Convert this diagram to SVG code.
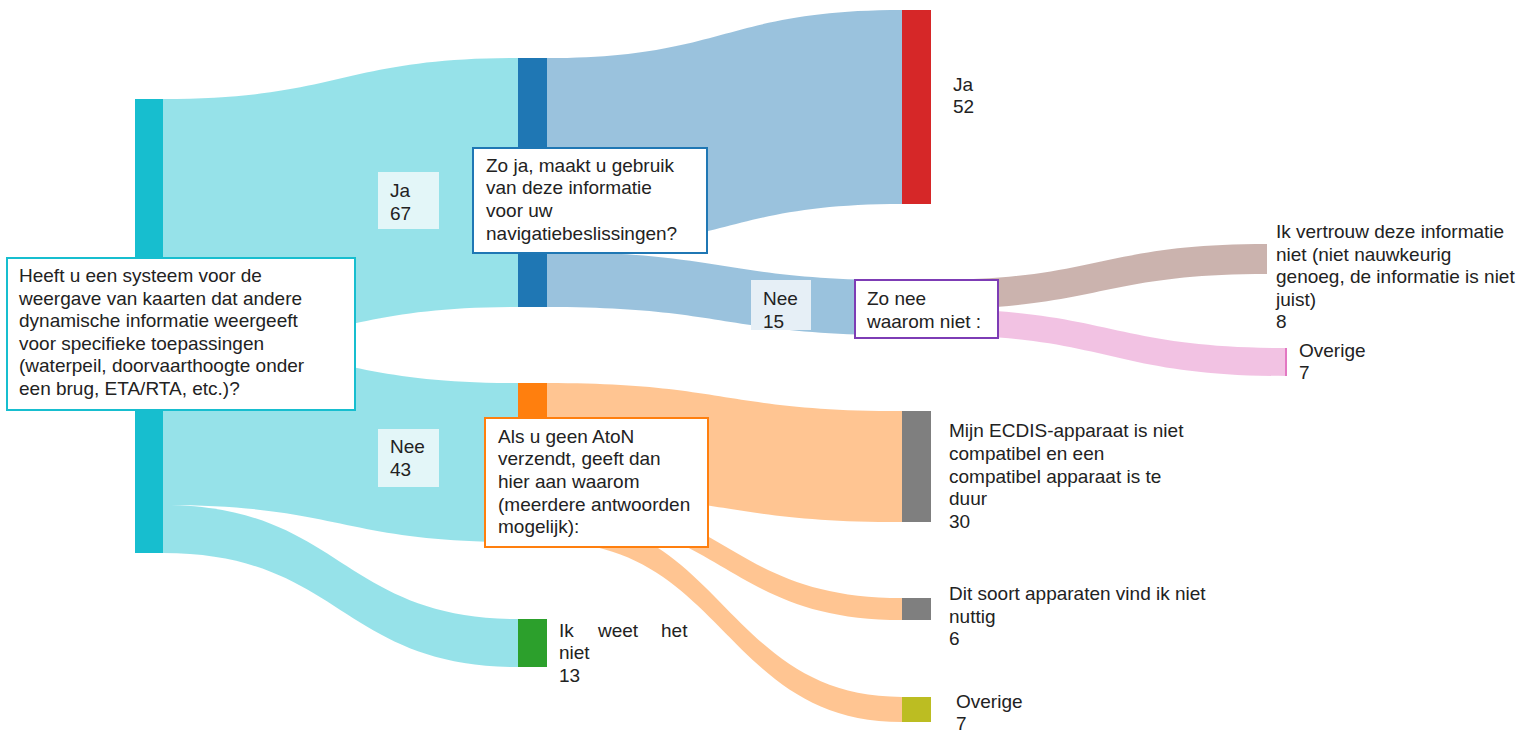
<svg xmlns="http://www.w3.org/2000/svg" width="1534" height="733" viewBox="0 0 1534 733">
<style>
text{font-family:"Liberation Sans",Arial,sans-serif;font-size:19px;fill:#222}
.lc{fill:#17becf;fill-opacity:0.45}
.lb{fill:#1f77b4;fill-opacity:0.45}
.lo{fill:#ff7f0e;fill-opacity:0.45}
.lbr{fill:#8c564b;fill-opacity:0.45}
.lp{fill:#e377c2;fill-opacity:0.45}
.q{fill:#fff;stroke-width:2}
</style>
<rect width="1534" height="733" fill="#fff"/>
<g id="links">
<path class="lc" d="M163 99C340.5 99 340.5 58 518 58L518 307C340.5 307 340.5 346 163 346Z"/>
<path class="lc" d="M163 346C340.5 346 340.5 383 518 383L518 542C340.5 542 340.5 505 163 505Z"/>
<path class="lc" d="M163 505C340.5 505 340.5 619 518 619L518 667C340.5 667 340.5 553 163 553Z"/>
<path class="lb" d="M547 58C724.5 58 724.5 10 902 10L902 204C724.5 204 724.5 250 547 250Z"/>
<path class="lb" d="M547 252C724.5 252 724.5 280 902 280L902 335C724.5 335 724.5 307 547 307Z"/>
<path class="lbr" d="M931 280C1099 280 1099 244 1267 244L1267 274C1099 274 1099 309 931 309Z"/>
<path class="lp" d="M931 309C1109 309 1109 348 1287 348L1287 376C1109 376 1109 335 931 335Z"/>
<path class="lo" d="M547 383C724.5 383 724.5 411 902 411L902 522C724.5 522 724.5 494 547 494Z"/>
<path class="lo" d="M547 494C724.5 494 724.5 598 902 598L902 620C724.5 620 724.5 516 547 516Z"/>
<path class="lo" d="M547 516C724.5 516 724.5 697 902 697L902 722C724.5 722 724.5 542 547 542Z"/>
</g>
<g id="node-q1"><rect x="135" y="99" width="28" height="454" fill="#17becf"/></g>
<g id="node-q2"><rect x="518" y="58" width="29" height="249" fill="#1f77b4"/></g>
<g id="node-q3"><rect x="518" y="383" width="29" height="159" fill="#ff7f0e"/></g>
<g id="node-ikweet"><rect x="518" y="619" width="29" height="48" fill="#2ca02c"/>
<text x="559" y="637">Ik</text><text x="598" y="637">weet</text><text x="661" y="637">het</text>
<text x="559" y="659">niet</text><text x="559" y="682">13</text></g>
<g id="node-ja52"><rect x="902" y="10" width="29" height="194" fill="#d62728"/>
<text x="953" y="91">Ja</text><text x="953" y="113">52</text></g>
<g id="node-q4"><rect x="902" y="280" width="29" height="55" fill="#9467bd"/></g>
<g id="node-vertrouw">
<text x="1276" y="238">Ik vertrouw deze informatie</text>
<text x="1276" y="261">niet (niet nauwkeurig</text>
<text x="1276" y="283">genoeg, de informatie is niet</text>
<text x="1276" y="306">juist)</text>
<text x="1276" y="328">8</text></g>
<g id="node-overige1"><rect x="1285" y="348" width="2" height="28" fill="#e377c2"/>
<text x="1299" y="357">Overige</text><text x="1299" y="379">7</text></g>
<g id="node-ecdis"><rect x="902" y="411" width="29" height="111" fill="#7f7f7f"/>
<text x="949" y="437">Mijn ECDIS-apparaat is niet</text>
<text x="949" y="460">compatibel en een</text>
<text x="949" y="483">compatibel apparaat is te</text>
<text x="949" y="505">duur</text>
<text x="949" y="528">30</text></g>
<g id="node-nuttig"><rect x="902" y="598" width="29" height="22" fill="#7f7f7f"/>
<text x="949" y="600">Dit soort apparaten vind ik niet</text>
<text x="949" y="623">nuttig</text>
<text x="949" y="645">6</text></g>
<g id="node-overige2"><rect x="902" y="697" width="29" height="25" fill="#bcbd22"/>
<text x="956" y="708">Overige</text><text x="956" y="730">7</text></g>
<g id="link-labels">
<rect x="378" y="172" width="61" height="57" fill="#e3f6f8"/>
<text x="390" y="197">Ja</text><text x="390" y="220">67</text>
<rect x="378" y="429" width="61" height="58" fill="#e3f6f8"/>
<text x="390" y="453">Nee</text><text x="390" y="476">43</text>
<rect x="751" y="280" width="60" height="50" fill="#e6eff6"/>
<text x="763" y="305">Nee</text><text x="763" y="328">15</text>
</g>
<g id="q1-label"><rect class="q" x="7" y="258" width="348" height="152" stroke="#17becf"/>
<text x="19" y="282">Heeft u een systeem voor de</text>
<text x="19" y="305">weergave van kaarten dat andere</text>
<text x="19" y="327">dynamische informatie weergeeft</text>
<text x="19" y="350">voor specifieke toepassingen</text>
<text x="19" y="372">(waterpeil, doorvaarthoogte onder</text>
<text x="19" y="395">een brug, ETA/RTA, etc.)?</text></g>
<g id="q2-label"><rect class="q" x="473" y="148" width="234" height="105" stroke="#1f77b4"/>
<text x="486" y="172">Zo ja, maakt u gebruik</text>
<text x="486" y="194">van deze informatie</text>
<text x="486" y="217">voor uw</text>
<text x="486" y="240">navigatiebeslissingen?</text></g>
<g id="q3-label"><rect class="q" x="485" y="418" width="223" height="129" stroke="#ff7f0e"/>
<text x="498" y="443">Als u geen AtoN</text>
<text x="498" y="465">verzendt, geeft dan</text>
<text x="498" y="488">hier aan waarom</text>
<text x="498" y="511">(meerdere antwoorden</text>
<text x="498" y="533">mogelijk):</text></g>
<g id="q4-label"><rect class="q" x="855" y="280" width="143" height="58" stroke="#7d3cb5"/>
<text x="867" y="305">Zo nee</text>
<text x="867" y="328">waarom niet :</text></g>
</svg>
